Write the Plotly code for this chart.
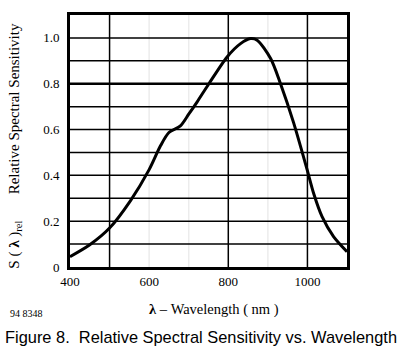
import plotly.graph_objects as go

wavelength = [400, 450, 500, 553, 600, 629, 650, 679, 700, 721, 751, 797, 831, 856, 873, 907, 932, 965, 999, 1016, 1037, 1066, 1100]
sensitivity = [0.045, 0.097, 0.17, 0.29, 0.425, 0.53, 0.587, 0.616, 0.667, 0.72, 0.80, 0.917, 0.975, 0.997, 0.99, 0.91, 0.80, 0.63, 0.426, 0.32, 0.22, 0.133, 0.067]

x_tickvals = [400, 600, 800, 1000]
y_tickvals = [0, 0.2, 0.4, 0.6, 0.8, 1.0]
y_ticktext = ["0", "0.2", "0.4", "0.6", "0.8", "1.0"]
major_x_grid = [500, 800, 1000]
faint_x_grid = [600, 700, 900]
y_grid = [0.1, 0.2, 0.3, 0.4, 0.5, 0.6, 0.7, 0.8, 0.9, 1.0]

serif = "Liberation Serif, Times New Roman, serif"

fig = go.Figure()
fig.add_trace(go.Scatter(x=wavelength, y=sensitivity, mode="lines",
                         line=dict(color="black", width=3, shape="spline", smoothing=0.8),
                         showlegend=False, hoverinfo="skip"))

shapes = []
for xv in faint_x_grid:
    shapes.append(dict(type="line", xref="x", yref="paper", x0=xv, x1=xv, y0=0, y1=1,
                       line=dict(color="#ececec", width=1.5), layer="below"))
for xv in major_x_grid:
    shapes.append(dict(type="line", xref="x", yref="paper", x0=xv, x1=xv, y0=0, y1=1,
                       line=dict(color="black", width=1.5), layer="below"))
for yv in y_grid:
    shapes.append(dict(type="line", xref="paper", yref="y", x0=0, x1=1, y0=yv, y1=yv,
                       line=dict(color="black", width=2.5 if abs(yv - 0.8) < 1e-9 else 1.5), layer="below"))

fig.update_layout(
    width=400, height=354,
    margin=dict(l=70, r=53, t=15, b=87),
    paper_bgcolor="white", plot_bgcolor="white",
    shapes=shapes,
    xaxis=dict(range=[400, 1100], tickvals=x_tickvals, ticks="", showgrid=False, zeroline=False,
               showline=True, linecolor="black", linewidth=3, mirror=True,
               tickfont=dict(family=serif, size=13, color="black")),
    yaxis=dict(range=[0, 1.1], tickvals=y_tickvals, ticktext=y_ticktext, ticks="", showgrid=False,
               zeroline=False, showline=True, linecolor="black", linewidth=3, mirror=True,
               tickfont=dict(family=serif, size=13, color="black"), ticklabelstandoff=5),
    annotations=[
        dict(text="<b>λ</b> – Wavelength ( nm )", xref="paper", yref="paper", x=0.52, y=-0.17,
             xanchor="center", yanchor="middle", showarrow=False,
             font=dict(family=serif, size=14.5, color="black")),
        dict(text="94 8348", xref="paper", x=-0.224, xanchor="left", yref="paper", y=-0.183,
             yanchor="middle", showarrow=False, font=dict(family=serif, size=10, color="black")),
        dict(text="S ( <b>λ</b> )<sub>rel</sub>       Relative Spectral Sensitivity", xref="paper", yref="paper",
             x=-0.2, y=0.48, xanchor="center", yanchor="middle", textangle=-90, showarrow=False,
             font=dict(family=serif, size=15, color="black")),
        dict(text="Figure 8.  Relative Spectral Sensitivity vs. Wavelength", xref="paper", yref="paper",
             x=-0.242, xanchor="left", y=-0.278, yanchor="middle", showarrow=False,
             font=dict(family="Liberation Sans, Arial, sans-serif", size=16.4, color="black")),
    ],
)

fig.write_html("out.html")
